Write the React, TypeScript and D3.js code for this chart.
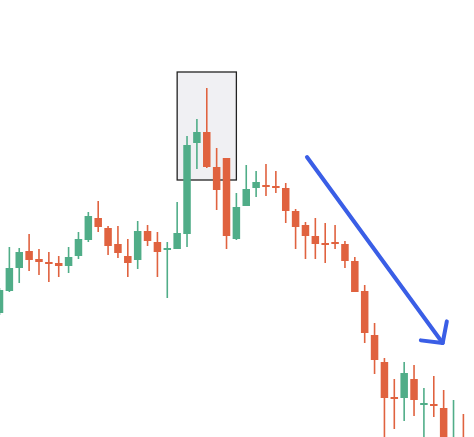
import { useEffect, useRef } from "react";
import * as d3 from "d3";

const WIDTH = 474;
const HEIGHT = 437;

// one entry per session, prices
const days = d3.range(1, 49).map((d) => `D${d}`);
const opens = [
  18.7, 20.9, 23.2, 24.9, 24.1, 23.8, 23.7, 23.4, 24.4, 26.0, 28.2, 27.2,
  25.6, 24.4, 24.0, 26.9, 25.8, 25.0, 25.1, 26.6, 35.7, 36.8, 33.3, 34.2,
  26.1, 29.4, 31.2, 31.5, 31.4, 31.2, 28.9, 27.5, 26.4, 25.7, 25.8, 25.6,
  23.9, 20.9, 16.5, 13.8, 10.3, 10.2, 12.1, 9.5, 9.6, 9.2, 4.0, 6.0,
];
const highs = [
  21.2, 25.3, 25.2, 26.6, 25.1, 24.8, 24.4, 25.3, 26.8, 28.8, 29.9, 27.4,
  27.4, 26.1, 27.9, 27.5, 26.8, 25.8, 29.8, 36.4, 38.1, 41.2, 35.2, 34.2,
  30.7, 33.5, 32.9, 33.6, 32.9, 31.7, 29.1, 27.8, 28.2, 27.7, 27.5, 25.9,
  24.3, 21.5, 17.7, 14.2, 12.1, 13.8, 13.5, 11.2, 12.4, 11.0, 10.0, 8.6,
];
const lows = [
  18.5, 20.8, 21.7, 22.9, 22.5, 21.8, 22.3, 22.7, 24.1, 25.8, 26.8, 24.5,
  24.2, 22.3, 23.1, 25.4, 22.3, 20.2, 25.1, 25.3, 33.1, 33.2, 29.0, 25.1,
  26.0, 29.4, 30.3, 30.4, 30.7, 27.7, 25.1, 24.1, 24.1, 23.7, 25.1, 23.2,
  20.8, 15.7, 12.6, 6.0, 7.1, 7.9, 8.4, 6.0, 8.3, 4.5, 3.5, 3.5,
];
const closes = [
  21.0, 23.2, 24.8, 24.0, 23.8, 23.6, 23.4, 24.3, 26.1, 28.4, 27.3, 25.4,
  24.7, 23.7, 26.9, 25.9, 24.8, 25.2, 26.7, 35.5, 36.8, 33.3, 31.0, 26.4,
  29.3, 31.1, 31.8, 31.3, 31.2, 28.9, 27.3, 26.4, 25.6, 25.5, 25.6, 23.9,
  20.8, 16.7, 14.0, 10.2, 10.1, 12.7, 10.0, 9.7, 9.4, 5.0, 6.0, 4.0,
];

// highlighted reversal zone and the trend arrow, in data terms
const boxDays = ["D19", "D25"];
const boxPrices = [32.0, 42.8];
const arrowFrom = { day: 32.15, price: 34.3 };
const arrowTo = { day: 45.9, price: 15.7 };

const UP = "#50ad88";
const DOWN = "#e0623f";

export default function App() {
  const svgRef = useRef<SVGSVGElement>(null);

  useEffect(() => {
    if (!svgRef.current) return;
    const svg = d3.select(svgRef.current);
    svg.selectAll("*").remove();

    const step = 9.87;
    const start = -0.5 - step / 2;
    const x = d3
      .scaleBand<string>()
      .domain(days)
      .range([start, start + step * days.length])
      .paddingInner(0.24)
      .paddingOuter(0.12);
    const center = (d: string) => x(d)! + x.bandwidth() / 2;
    // continuous version for the arrow, by session number (1-based)
    const xi = d3
      .scaleLinear()
      .domain([1, days.length])
      .range([center(days[0]), center(days[days.length - 1])]);

    const y = d3.scaleLinear().domain([6.3, 50]).range([HEIGHT, 0]);

    const candles = days.map((d, i) => ({
      day: d,
      open: opens[i],
      high: highs[i],
      low: lows[i],
      close: closes[i],
    }));

    // highlight box
    svg
      .append("rect")
      .attr("x", center(boxDays[0]))
      .attr("y", y(boxPrices[1]))
      .attr("width", center(boxDays[1]) - center(boxDays[0]))
      .attr("height", y(boxPrices[0]) - y(boxPrices[1]))
      .attr("fill", "#f0f0f3")
      .attr("stroke", "#222")
      .attr("stroke-width", 1.3);

    const g = svg.append("g");

    g.selectAll("line.wick")
      .data(candles)
      .join("line")
      .attr("class", "wick")
      .attr("x1", (d) => center(d.day))
      .attr("x2", (d) => center(d.day))
      .attr("y1", (d) => y(d.high))
      .attr("y2", (d) => y(d.low))
      .attr("stroke", (d) => (d.close >= d.open ? UP : DOWN))
      .attr("stroke-width", 1.6);

    g.selectAll("rect.body")
      .data(candles)
      .join("rect")
      .attr("class", "body")
      .attr("x", (d) => x(d.day)!)
      .attr("width", x.bandwidth())
      .attr("y", (d) => y(Math.max(d.open, d.close)))
      .attr("height", (d) =>
        Math.max(2, Math.abs(y(d.open) - y(d.close)))
      )
      .attr("fill", (d) => (d.close >= d.open ? UP : DOWN));

    // trend arrow
    const x1 = xi(arrowFrom.day);
    const y1 = y(arrowFrom.price);
    const x2 = xi(arrowTo.day);
    const y2 = y(arrowTo.price);
    const back = Math.atan2(y1 - y2, x1 - x2);
    const arm = 22;
    const spread = (47 * Math.PI) / 180;
    const a1 = [x2 + arm * Math.cos(back + spread), y2 + arm * Math.sin(back + spread)];
    const a2 = [x2 + arm * Math.cos(back - spread), y2 + arm * Math.sin(back - spread)];

    const arrow = svg
      .append("g")
      .attr("fill", "none")
      .attr("stroke", "#3a5ee6")
      .attr("stroke-width", 4)
      .attr("stroke-linecap", "round")
      .attr("stroke-linejoin", "round");
    arrow.append("line").attr("x1", x1).attr("y1", y1).attr("x2", x2).attr("y2", y2);
    arrow
      .append("path")
      .attr("d", d3.line()([a1 as [number, number], [x2, y2], a2 as [number, number]]));
  }, []);

  return (
    <svg
      ref={svgRef}
      width={WIDTH}
      height={HEIGHT}
      style={{ position: "absolute", left: 0, top: 0, background: "#fff" }}
    />
  );
}
